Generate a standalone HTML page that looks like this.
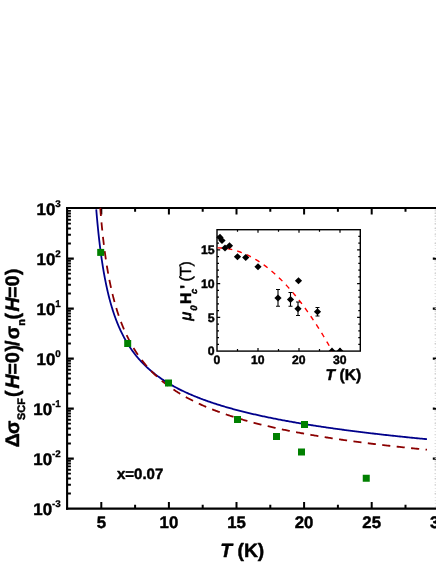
<!DOCTYPE html>
<html><head><meta charset="utf-8"><title>chart</title>
<style>
html,body{margin:0;padding:0;background:#fff;}
body{width:436px;height:564px;overflow:hidden;font-family:"Liberation Sans",sans-serif;}
svg{display:block;will-change:transform}
text{font-family:"Liberation Sans",sans-serif;font-weight:bold;fill:#000;text-rendering:geometricPrecision;stroke:#000;stroke-width:0.45px;stroke-linejoin:round}
</style></head><body>
<svg width="436" height="564" viewBox="0 0 436 564">
<rect x="0" y="0" width="436" height="564" fill="#fff"/>

<g stroke="#000" stroke-width="2.1" fill="none" stroke-linecap="butt">
<path d="M67.1 206.95V509.65"/>
<path d="M66.05 208H436"/>
<path d="M66.05 508.6H436"/>
</g>
<g stroke="#000" stroke-width="2" fill="none">
<path d="M101.30 508.6v-6.60M101.30 208v6.40M135.10 508.6v-3.80M135.10 208v3.80M168.90 508.6v-6.60M168.90 208v6.40M202.70 508.6v-3.80M202.70 208v3.80M236.50 508.6v-6.60M236.50 208v6.40M270.30 508.6v-3.80M270.30 208v3.80M304.10 508.6v-6.60M304.10 208v6.40M337.90 508.6v-3.80M337.90 208v3.80M371.70 508.6v-6.60M371.70 208v6.40M405.50 508.6v-3.80M405.50 208v3.80M439.30 508.6v-6.60M439.30 208v6.40"/>
</g>
<g stroke="#000" fill="none">
<path stroke-width="2.2" d="M67 458.60H73.8M67 408.60H73.8M67 358.60H73.8M67 308.60H73.8M67 258.60H73.8"/>
<path stroke-width="1.9" d="M67 493.55H70.9M67 484.74H70.9M67 478.50H70.9M67 473.65H70.9M67 469.69H70.9M67 466.35H70.9M67 463.45H70.9M67 460.89H70.9M67 443.55H70.9M67 434.74H70.9M67 428.50H70.9M67 423.65H70.9M67 419.69H70.9M67 416.35H70.9M67 413.45H70.9M67 410.89H70.9M67 393.55H70.9M67 384.74H70.9M67 378.50H70.9M67 373.65H70.9M67 369.69H70.9M67 366.35H70.9M67 363.45H70.9M67 360.89H70.9M67 343.55H70.9M67 334.74H70.9M67 328.50H70.9M67 323.65H70.9M67 319.69H70.9M67 316.35H70.9M67 313.45H70.9M67 310.89H70.9M67 293.55H70.9M67 284.74H70.9M67 278.50H70.9M67 273.65H70.9M67 269.69H70.9M67 266.35H70.9M67 263.45H70.9M67 260.89H70.9M67 243.55H70.9M67 234.74H70.9M67 228.50H70.9M67 223.65H70.9M67 219.69H70.9M67 216.35H70.9M67 213.45H70.9M67 210.89H70.9"/>
<path stroke-width="2.2" d="M432.8 458.60H436M432.8 408.60H436M432.8 358.60H436M432.8 308.60H436M432.8 258.60H436"/>
<path stroke-width="1" stroke="#ccc" d="M434.6 493.55H436M434.6 484.74H436M434.6 478.50H436M434.6 473.65H436M434.6 469.69H436M434.6 466.35H436M434.6 463.45H436M434.6 460.89H436M434.6 443.55H436M434.6 434.74H436M434.6 428.50H436M434.6 423.65H436M434.6 419.69H436M434.6 416.35H436M434.6 413.45H436M434.6 410.89H436M434.6 393.55H436M434.6 384.74H436M434.6 378.50H436M434.6 373.65H436M434.6 369.69H436M434.6 366.35H436M434.6 363.45H436M434.6 360.89H436M434.6 343.55H436M434.6 334.74H436M434.6 328.50H436M434.6 323.65H436M434.6 319.69H436M434.6 316.35H436M434.6 313.45H436M434.6 310.89H436M434.6 293.55H436M434.6 284.74H436M434.6 278.50H436M434.6 273.65H436M434.6 269.69H436M434.6 266.35H436M434.6 263.45H436M434.6 260.89H436M434.6 243.55H436M434.6 234.74H436M434.6 228.50H436M434.6 223.65H436M434.6 219.69H436M434.6 216.35H436M434.6 213.45H436M434.6 210.89H436"/>
<path stroke-width="1" stroke="#ddd" stroke-dasharray="1 2" d="M435.3 209V508"/>
</g>
<path d="M96.25 209.44L96.50 212.45L96.75 215.37L97.00 218.21L97.25 220.95L97.50 223.62L97.75 226.21L98.00 228.73L98.25 231.18L98.50 233.56L98.75 235.88L99.00 238.13L99.25 240.33L99.50 242.47L99.75 244.55L100.00 246.59L100.25 248.57L100.50 250.51L100.75 252.40L101.00 254.25L101.25 256.05L101.50 257.81L101.75 259.54L102.00 261.22L102.25 262.87L102.50 264.48L102.75 266.06L103.00 267.60L103.25 269.11L103.50 270.59L103.75 272.05L104.00 273.47L104.25 274.86L104.50 276.23L104.75 277.57L105.00 278.88L105.25 280.17L105.50 281.44L105.75 282.68L106.00 283.90L106.25 285.10L106.50 286.27L106.75 287.43L107.00 288.56L107.25 289.68L107.50 290.78L107.75 291.85L108.00 292.91L108.25 293.96L108.50 294.98L108.75 295.99L109.00 296.98L109.25 297.96L109.50 298.92L109.75 299.87L110.00 300.80L110.25 301.72L110.50 302.62L110.75 303.51L111.00 304.39L111.25 305.25L111.50 306.10L111.75 306.94L112.00 307.77L112.25 308.59L112.50 309.39L112.75 310.18L113.00 310.96L113.25 311.74L113.50 312.50L113.75 313.25L114.00 313.99L114.25 314.72L114.50 315.44L114.75 316.15L115.00 316.85L115.25 317.55L115.50 318.23L115.75 318.91L116.00 319.58L116.25 320.24L116.50 320.89L116.75 321.53L117.00 322.17L117.25 322.80L117.50 323.42L117.75 324.03L118.00 324.64L118.25 325.23L118.50 325.83L118.75 326.41L119.00 326.99L119.25 327.56L119.50 328.13L119.75 328.69L120.00 329.24L120.25 329.79L120.50 330.33L120.75 330.87L121.00 331.40L121.25 331.92L121.50 332.44L121.75 332.95L122.00 333.46L122.25 333.97L122.50 334.46L122.75 334.96L123.00 335.44L123.25 335.93L123.50 336.40L123.75 336.88L124.00 337.35L124.25 337.81L124.50 338.27L124.75 338.72L125.00 339.18L125.25 339.62L125.50 340.06L125.75 340.50L126.00 340.94L126.25 341.37L126.50 341.79L126.75 342.21L127.00 342.63L127.25 343.05L127.50 343.46L127.75 343.86L128.00 344.27L128.25 344.67L128.50 345.06L128.75 345.46L129.00 345.85L129.25 346.23L129.50 346.61L129.75 346.99L130.00 347.37L130.25 347.74L130.50 348.11L130.75 348.48L131.00 348.84L131.25 349.20L131.50 349.56L131.75 349.92L132.00 350.27L132.25 350.62L132.50 350.97L132.75 351.31L133.00 351.65L133.25 351.99L133.50 352.33L133.75 352.66L134.00 352.99L134.25 353.32L134.50 353.64L134.75 353.97L135.00 354.29L135.25 354.60L135.50 354.92L135.75 355.23L136.00 355.55L136.25 355.85L136.50 356.16L136.75 356.47L137.00 356.77L137.25 357.07L137.50 357.37L137.75 357.66L138.00 357.96L138.25 358.25L138.50 358.54L138.75 358.82L139.00 359.11L139.25 359.39L139.50 359.67L139.75 359.95L140.00 360.23L141.00 361.32L142.00 362.39L143.00 363.42L144.00 364.43L145.00 365.42L146.00 366.38L147.00 367.32L148.00 368.23L149.00 369.13L150.00 370.00L151.00 370.86L152.00 371.69L153.00 372.51L154.00 373.31L155.00 374.09L156.00 374.86L157.00 375.61L158.00 376.35L159.00 377.07L160.00 377.78L161.00 378.47L162.00 379.15L163.00 379.82L164.00 380.48L165.00 381.12L166.00 381.76L167.00 382.38L168.00 382.99L169.00 383.59L170.00 384.18L171.00 384.76L172.00 385.34L173.00 385.90L174.00 386.45L175.00 387.00L176.00 387.53L177.00 388.06L178.00 388.58L179.00 389.09L180.00 389.60L181.00 390.09L182.00 390.58L183.00 391.06L184.00 391.54L185.00 392.01L186.00 392.47L187.00 392.93L188.00 393.38L189.00 393.82L190.00 394.26L191.00 394.69L192.00 395.12L193.00 395.54L194.00 395.96L195.00 396.37L196.00 396.77L197.00 397.17L198.00 397.57L199.00 397.96L200.00 398.35L201.00 398.73L202.00 399.11L203.00 399.48L204.00 399.85L205.00 400.21L206.00 400.57L207.00 400.93L208.00 401.28L209.00 401.63L210.00 401.97L211.00 402.32L212.00 402.65L213.00 402.99L214.00 403.32L215.00 403.64L216.00 403.97L217.00 404.29L218.00 404.60L219.00 404.92L220.00 405.23L221.00 405.54L222.00 405.84L223.00 406.14L224.00 406.44L225.00 406.74L226.00 407.03L227.00 407.32L228.00 407.61L229.00 407.89L230.00 408.17L231.00 408.45L232.00 408.73L233.00 409.01L234.00 409.28L235.00 409.55L236.00 409.82L237.00 410.08L238.00 410.34L239.00 410.60L240.00 410.86L241.00 411.12L242.00 411.37L243.00 411.62L244.00 411.87L245.00 412.12L246.00 412.37L247.00 412.61L248.00 412.85L249.00 413.09L250.00 413.33L251.00 413.57L252.00 413.80L253.00 414.03L254.00 414.26L255.00 414.49L256.00 414.72L257.00 414.95L258.00 415.17L259.00 415.39L260.00 415.61L261.00 415.83L262.00 416.05L263.00 416.26L264.00 416.48L265.00 416.69L266.00 416.90L267.00 417.11L268.00 417.32L269.00 417.52L270.00 417.73L271.00 417.93L272.00 418.14L273.00 418.34L274.00 418.54L275.00 418.73L276.00 418.93L277.00 419.13L278.00 419.32L279.00 419.51L280.00 419.70L281.00 419.90L282.00 420.08L283.00 420.27L284.00 420.46L285.00 420.64L286.00 420.83L287.00 421.01L288.00 421.19L289.00 421.37L290.00 421.55L291.00 421.73L292.00 421.91L293.00 422.09L294.00 422.26L295.00 422.44L296.00 422.61L297.00 422.78L298.00 422.95L299.00 423.12L300.00 423.29L301.00 423.46L302.00 423.63L303.00 423.79L304.00 423.96L305.00 424.12L306.00 424.29L307.00 424.45L308.00 424.61L309.00 424.77L310.00 424.93L311.00 425.09L312.00 425.25L313.00 425.40L314.00 425.56L315.00 425.72L316.00 425.87L317.00 426.02L318.00 426.18L319.00 426.33L320.00 426.48L321.00 426.63L322.00 426.78L323.00 426.93L324.00 427.08L325.00 427.22L326.00 427.37L327.00 427.52L328.00 427.66L329.00 427.81L330.00 427.95L331.00 428.09L332.00 428.23L333.00 428.38L334.00 428.52L335.00 428.66L336.00 428.80L337.00 428.93L338.00 429.07L339.00 429.21L340.00 429.35L341.00 429.48L342.00 429.62L343.00 429.75L344.00 429.88L345.00 430.02L346.00 430.15L347.00 430.28L348.00 430.41L349.00 430.54L350.00 430.67L351.00 430.80L352.00 430.93L353.00 431.06L354.00 431.19L355.00 431.32L356.00 431.44L357.00 431.57L358.00 431.69L359.00 431.82L360.00 431.94L361.00 432.07L362.00 432.19L363.00 432.31L364.00 432.44L365.00 432.56L366.00 432.68L367.00 432.80L368.00 432.92L369.00 433.04L370.00 433.16L371.00 433.28L372.00 433.39L373.00 433.51L374.00 433.63L375.00 433.74L376.00 433.86L377.00 433.98L378.00 434.09L379.00 434.20L380.00 434.32L381.00 434.43L382.00 434.55L383.00 434.66L384.00 434.77L385.00 434.88L386.00 434.99L387.00 435.10L388.00 435.21L389.00 435.32L390.00 435.43L391.00 435.54L392.00 435.65L393.00 435.76L394.00 435.87L395.00 435.97L396.00 436.08L397.00 436.19L398.00 436.29L399.00 436.40L400.00 436.50L401.00 436.61L402.00 436.71L403.00 436.82L404.00 436.92L405.00 437.02L406.00 437.13L407.00 437.23L408.00 437.33L409.00 437.43L410.00 437.53L411.00 437.63L412.00 437.74L413.00 437.84L414.00 437.94L415.00 438.03L416.00 438.13L417.00 438.23L418.00 438.33L419.00 438.43L420.00 438.53L421.00 438.62L422.00 438.72L423.00 438.82L424.00 438.91L425.00 439.01L426.00 439.10L427.00 439.20" fill="none" stroke="#00008b" stroke-width="1.8" stroke-linejoin="round"/>
<path d="M100.25 207.90L100.50 211.05L100.75 214.09L101.00 217.02L101.25 219.85L101.50 222.58L101.75 225.23L102.00 227.80L102.25 230.28L102.50 232.69L102.75 235.04L103.00 237.31L103.25 239.52L103.50 241.67L103.75 243.76L104.00 245.80L104.25 247.78L104.50 249.71L104.75 251.60L105.00 253.44L105.25 255.24L105.50 256.99L105.75 258.71L106.00 260.39L106.25 262.02L106.50 263.63L106.75 265.20L107.00 266.73L107.25 268.24L107.50 269.71L107.75 271.16L108.00 272.57L108.25 273.96L108.50 275.32L108.75 276.66L109.00 277.97L109.25 279.26L109.50 280.52L109.75 281.76L110.00 282.98L110.25 284.18L110.50 285.36L110.75 286.52L111.00 287.66L111.25 288.78L111.50 289.88L111.75 290.96L112.00 292.03L112.25 293.08L112.50 294.11L112.75 295.13L113.00 296.13L113.25 297.12L113.50 298.09L113.75 299.05L114.00 300.00L114.25 300.93L114.50 301.84L114.75 302.75L115.00 303.64L115.25 304.52L115.50 305.39L115.75 306.25L116.00 307.09L116.25 307.93L116.50 308.75L116.75 309.56L117.00 310.36L117.25 311.16L117.50 311.94L117.75 312.71L118.00 313.47L118.25 314.23L118.50 314.97L118.75 315.70L119.00 316.43L119.25 317.15L119.50 317.86L119.75 318.56L120.00 319.25L120.25 319.94L120.50 320.62L120.75 321.29L121.00 321.95L121.25 322.60L121.50 323.25L121.75 323.89L122.00 324.53L122.25 325.15L122.50 325.77L122.75 326.39L123.00 327.00L123.25 327.60L123.50 328.19L123.75 328.78L124.00 329.37L124.25 329.94L124.50 330.51L124.75 331.08L125.00 331.64L125.25 332.20L125.50 332.74L125.75 333.29L126.00 333.83L126.25 334.36L126.50 334.89L126.75 335.41L127.00 335.93L127.25 336.45L127.50 336.96L127.75 337.46L128.00 337.96L128.25 338.46L128.50 338.95L128.75 339.44L129.00 339.92L129.25 340.40L129.50 340.87L129.75 341.34L130.00 341.81L130.25 342.27L130.50 342.73L130.75 343.18L131.00 343.63L131.25 344.08L131.50 344.52L131.75 344.96L132.00 345.40L132.25 345.83L132.50 346.26L132.75 346.68L133.00 347.11L133.25 347.52L133.50 347.94L133.75 348.35L134.00 348.76L134.25 349.17L134.50 349.57L134.75 349.97L135.00 350.36L135.25 350.76L135.50 351.15L135.75 351.53L136.00 351.92L136.25 352.30L136.50 352.68L136.75 353.06L137.00 353.43L137.25 353.80L137.50 354.17L137.75 354.53L138.00 354.89L138.25 355.25L138.50 355.61L138.75 355.97L139.00 356.32L139.25 356.67L139.50 357.02L139.75 357.36L140.00 357.70L141.00 359.05L142.00 360.36L143.00 361.64L144.00 362.88L145.00 364.10L146.00 365.28L147.00 366.43L148.00 367.56L149.00 368.66L150.00 369.73L151.00 370.78L152.00 371.81L153.00 372.81L154.00 373.80L155.00 374.76L156.00 375.70L157.00 376.62L158.00 377.52L159.00 378.41L160.00 379.27L161.00 380.12L162.00 380.96L163.00 381.77L164.00 382.58L165.00 383.36L166.00 384.14L167.00 384.89L168.00 385.64L169.00 386.37L170.00 387.09L171.00 387.80L172.00 388.49L173.00 389.18L174.00 389.85L175.00 390.51L176.00 391.16L177.00 391.80L178.00 392.43L179.00 393.05L180.00 393.66L181.00 394.26L182.00 394.85L183.00 395.43L184.00 396.01L185.00 396.57L186.00 397.13L187.00 397.68L188.00 398.22L189.00 398.76L190.00 399.28L191.00 399.80L192.00 400.31L193.00 400.82L194.00 401.32L195.00 401.81L196.00 402.29L197.00 402.77L198.00 403.24L199.00 403.71L200.00 404.17L201.00 404.63L202.00 405.08L203.00 405.52L204.00 405.96L205.00 406.39L206.00 406.82L207.00 407.24L208.00 407.66L209.00 408.07L210.00 408.48L211.00 408.88L212.00 409.28L213.00 409.67L214.00 410.06L215.00 410.45L216.00 410.83L217.00 411.21L218.00 411.58L219.00 411.95L220.00 412.31L221.00 412.67L222.00 413.03L223.00 413.38L224.00 413.73L225.00 414.08L226.00 414.42L227.00 414.76L228.00 415.09L229.00 415.43L230.00 415.75L231.00 416.08L232.00 416.40L233.00 416.72L234.00 417.04L235.00 417.35L236.00 417.66L237.00 417.97L238.00 418.27L239.00 418.57L240.00 418.87L241.00 419.16L242.00 419.46L243.00 419.75L244.00 420.03L245.00 420.32L246.00 420.60L247.00 420.88L248.00 421.16L249.00 421.43L250.00 421.71L251.00 421.98L252.00 422.24L253.00 422.51L254.00 422.77L255.00 423.03L256.00 423.29L257.00 423.55L258.00 423.80L259.00 424.06L260.00 424.31L261.00 424.55L262.00 424.80L263.00 425.04L264.00 425.29L265.00 425.53L266.00 425.77L267.00 426.00L268.00 426.24L269.00 426.47L270.00 426.70L271.00 426.93L272.00 427.16L273.00 427.38L274.00 427.61L275.00 427.83L276.00 428.05L277.00 428.27L278.00 428.49L279.00 428.70L280.00 428.92L281.00 429.13L282.00 429.34L283.00 429.55L284.00 429.76L285.00 429.96L286.00 430.17L287.00 430.37L288.00 430.57L289.00 430.78L290.00 430.98L291.00 431.17L292.00 431.37L293.00 431.56L294.00 431.76L295.00 431.95L296.00 432.14L297.00 432.33L298.00 432.52L299.00 432.71L300.00 432.89L301.00 433.08L302.00 433.26L303.00 433.45L304.00 433.63L305.00 433.81L306.00 433.99L307.00 434.16L308.00 434.34L309.00 434.52L310.00 434.69L311.00 434.86L312.00 435.04L313.00 435.21L314.00 435.38L315.00 435.55L316.00 435.71L317.00 435.88L318.00 436.05L319.00 436.21L320.00 436.38L321.00 436.54L322.00 436.70L323.00 436.86L324.00 437.02L325.00 437.18L326.00 437.34L327.00 437.50L328.00 437.65L329.00 437.81L330.00 437.96L331.00 438.12L332.00 438.27L333.00 438.42L334.00 438.57L335.00 438.72L336.00 438.87L337.00 439.02L338.00 439.17L339.00 439.31L340.00 439.46L341.00 439.61L342.00 439.75L343.00 439.89L344.00 440.04L345.00 440.18L346.00 440.32L347.00 440.46L348.00 440.60L349.00 440.74L350.00 440.88L351.00 441.01L352.00 441.15L353.00 441.29L354.00 441.42L355.00 441.56L356.00 441.69L357.00 441.82L358.00 441.96L359.00 442.09L360.00 442.22L361.00 442.35L362.00 442.48L363.00 442.61L364.00 442.74L365.00 442.86L366.00 442.99L367.00 443.12L368.00 443.24L369.00 443.37L370.00 443.49L371.00 443.62L372.00 443.74L373.00 443.86L374.00 443.99L375.00 444.11L376.00 444.23L377.00 444.35L378.00 444.47L379.00 444.59L380.00 444.71L381.00 444.83L382.00 444.94L383.00 445.06L384.00 445.18L385.00 445.29L386.00 445.41L387.00 445.52L388.00 445.64L389.00 445.75L390.00 445.86L391.00 445.98L392.00 446.09L393.00 446.20L394.00 446.31L395.00 446.42L396.00 446.53L397.00 446.64L398.00 446.75L399.00 446.86L400.00 446.97L401.00 447.08L402.00 447.18L403.00 447.29L404.00 447.40L405.00 447.50L406.00 447.61L407.00 447.71L408.00 447.82L409.00 447.92L410.00 448.02L411.00 448.13L412.00 448.23L413.00 448.33L414.00 448.43L415.00 448.53L416.00 448.64L417.00 448.74L418.00 448.84L419.00 448.94L420.00 449.04L421.00 449.13L422.00 449.23L423.00 449.33L424.00 449.43L425.00 449.52L426.00 449.62L427.00 449.72" fill="none" stroke="#8b0000" stroke-width="1.8" stroke-dasharray="8.14 6.38" stroke-linejoin="round"/>
<g fill="#008000">
<rect x="97.20" y="248.90" width="7" height="7"/>
<rect x="124.20" y="340.00" width="7" height="7"/>
<rect x="165.00" y="379.50" width="7" height="7"/>
<rect x="234.00" y="416.00" width="7" height="7"/>
<rect x="273.00" y="433.00" width="7" height="7"/>
<rect x="298.00" y="448.50" width="7" height="7"/>
<rect x="301.00" y="421.00" width="7" height="7"/>
<rect x="362.75" y="474.75" width="7" height="7"/>
</g>
<text x="60.8" y="514.85" text-anchor="end" font-size="16.9">10<tspan font-size="9.8" dy="-8.3" stroke-width="0.3">-3</tspan></text>
<text x="60.8" y="464.85" text-anchor="end" font-size="16.9">10<tspan font-size="9.8" dy="-8.3" stroke-width="0.3">-2</tspan></text>
<text x="60.8" y="414.85" text-anchor="end" font-size="16.9">10<tspan font-size="9.8" dy="-8.3" stroke-width="0.3">-1</tspan></text>
<text x="60.8" y="364.85" text-anchor="end" font-size="16.9">10<tspan font-size="9.8" dy="-8.3" stroke-width="0.3">0</tspan></text>
<text x="60.8" y="314.85" text-anchor="end" font-size="16.9">10<tspan font-size="9.8" dy="-8.3" stroke-width="0.3">1</tspan></text>
<text x="60.8" y="264.85" text-anchor="end" font-size="16.9">10<tspan font-size="9.8" dy="-8.3" stroke-width="0.3">2</tspan></text>
<text x="60.8" y="214.85" text-anchor="end" font-size="16.9">10<tspan font-size="9.8" dy="-8.3" stroke-width="0.3">3</tspan></text>
<text x="101.30" y="528" text-anchor="middle" font-size="16.8">5</text>
<text x="168.90" y="528" text-anchor="middle" font-size="16.8">10</text>
<text x="236.50" y="528" text-anchor="middle" font-size="16.8">15</text>
<text x="304.10" y="528" text-anchor="middle" font-size="16.8">20</text>
<text x="371.70" y="528" text-anchor="middle" font-size="16.8">25</text>
<text x="439.30" y="528" text-anchor="middle" font-size="16.8">30</text>
<text x="242.3" y="556.6" text-anchor="middle" font-size="19.3"><tspan font-style="italic">T</tspan> (K)</text>
<text x="117" y="479" font-size="15">x=0.07</text>
<text transform="translate(19.2 448.3) rotate(-90)" font-size="19.5" x="1.05 14.3 28.3 35.55 43.45 51.3 59.8 73.7 85.35 96.7 102.4 109.0 122.5 128.9 136.8 150.6 162.05 173.35">Δσ<tspan font-size="10.9" dy="6.1">SCF</tspan><tspan dy="-6.1">(</tspan><tspan font-style="italic">H</tspan>=0)/σ<tspan font-size="10.9" dy="6.1">n</tspan><tspan dy="-6.1">(</tspan><tspan font-style="italic">H</tspan>=0)</text>
<rect x="217.0" y="229.7" width="143.3" height="121.40000000000003" fill="#fff" stroke="#000" stroke-width="1.4"/>
<path stroke="#000" stroke-width="1.2" fill="none" d="M237.50 351.1v-2M237.50 229.7v2M258.00 351.1v-3M258.00 229.7v3M278.50 351.1v-2M278.50 229.7v2M299.00 351.1v-3M299.00 229.7v3M319.50 351.1v-2M319.50 229.7v2M340.00 351.1v-3M340.00 229.7v3M217.0 344.35h2M360.3 344.35h-2M217.0 337.60h2M360.3 337.60h-2M217.0 330.85h2M360.3 330.85h-2M217.0 324.10h2M360.3 324.10h-2M217.0 317.35h3.2M360.3 317.35h-3.2M217.0 310.60h2M360.3 310.60h-2M217.0 303.85h2M360.3 303.85h-2M217.0 297.10h2M360.3 297.10h-2M217.0 290.35h2M360.3 290.35h-2M217.0 283.60h3.2M360.3 283.60h-3.2M217.0 276.85h2M360.3 276.85h-2M217.0 270.10h2M360.3 270.10h-2M217.0 263.35h2M360.3 263.35h-2M217.0 256.60h2M360.3 256.60h-2M217.0 249.85h3.2M360.3 249.85h-3.2M217.0 243.10h2M360.3 243.10h-2M217.0 236.35h2M360.3 236.35h-2"/>
<text x="216.80" y="364" text-anchor="middle" font-size="12.2">0</text>
<text x="257.80" y="364" text-anchor="middle" font-size="12.2">10</text>
<text x="298.80" y="364" text-anchor="middle" font-size="12.2">20</text>
<text x="339.80" y="364" text-anchor="middle" font-size="12.2">30</text>
<text x="214.6" y="355.40" text-anchor="end" font-size="12.3">0</text>
<text x="214.6" y="321.65" text-anchor="end" font-size="12.3">5</text>
<text x="214.6" y="287.90" text-anchor="end" font-size="12.3">10</text>
<text x="214.6" y="254.15" text-anchor="end" font-size="12.3">15</text>
<text x="325.6" y="380.2" font-size="15.6"><tspan font-style="italic">T</tspan> (K)</text>
<text transform="translate(190.8 320.3) rotate(-90)" font-size="15.5"><tspan x="-0.3" font-style="italic" font-weight="normal" stroke-width="0.8">μ</tspan><tspan x="9.6" dy="5.8" font-size="9.5" font-style="italic">0</tspan><tspan x="16.3" dy="-5.8">H</tspan><tspan x="26.3" dy="5.8" font-size="9.5" font-style="italic">c</tspan><tspan x="31.6" dy="-5.8">'</tspan><tspan x="38.8" font-size="16" font-weight="normal" stroke-width="0.5">(T)</tspan></text>
<path d="M217.00 247.83L219.05 247.86L221.10 247.96L223.15 248.12L225.20 248.35L227.25 248.64L229.30 249.00L231.35 249.43L233.40 249.92L235.45 250.47L237.50 251.09L239.55 251.78L241.60 252.53L243.65 253.35L245.70 254.23L247.75 255.18L249.80 256.20L251.85 257.27L253.90 258.42L255.95 259.63L258.00 260.90L260.05 262.24L262.10 263.65L264.15 265.12L266.20 266.66L268.25 268.26L270.30 269.93L272.35 271.66L274.40 273.46L276.45 275.32L278.50 277.25L280.55 279.25L282.60 281.31L284.65 283.43L286.70 285.62L288.75 287.88L290.80 290.20L292.85 292.59L294.90 295.04L296.95 297.56L299.00 300.14L301.05 302.79L303.10 305.50L305.15 308.28L307.20 311.13L309.25 314.04L311.30 317.01L313.35 320.06L315.40 323.16L317.45 326.33L319.50 329.57L321.55 332.87L323.60 336.24L325.65 339.67L327.70 343.17L329.75 346.74L331.80 350.37L332.21 351.10" fill="none" stroke="#ff0000" stroke-width="1.4" stroke-dasharray="4.9 5.1" stroke-dashoffset="-0.5"/>
<path stroke="#000" stroke-width="1.1" fill="none" d="M278 289.5V306.25M276 289.5h4M276 306.25h4M290.5 292.5V306.25M288.5 292.5h4M288.5 306.25h4M298 302V315.5M296 302h4M296 315.5h4M317.5 307.5V316M315.5 307.5h4M315.5 316h4"/>
<g fill="#000">
<path d="M216.40 237.4L220 233.80L223.60 237.4L220 241.00Z"/>
<path d="M218.40 240.5L222 236.90L225.60 240.5L222 244.10Z"/>
<path d="M221.40 248L225 244.40L228.60 248L225 251.60Z"/>
<path d="M225.90 245.75L229.5 242.15L233.10 245.75L229.5 249.35Z"/>
<path d="M233.90 256.75L237.5 253.15L241.10 256.75L237.5 260.35Z"/>
<path d="M242.15 257.5L245.75 253.90L249.35 257.5L245.75 261.10Z"/>
<path d="M254.40 266.75L258 263.15L261.60 266.75L258 270.35Z"/>
<path d="M274.40 298L278 294.40L281.60 298L278 301.60Z"/>
<path d="M286.90 299.5L290.5 295.90L294.10 299.5L290.5 303.10Z"/>
<path d="M294.40 308.75L298 305.15L301.60 308.75L298 312.35Z"/>
<path d="M294.90 280.75L298.5 277.15L302.10 280.75L298.5 284.35Z"/>
<path d="M313.90 311.75L317.5 308.15L321.10 311.75L317.5 315.35Z"/>
<path d="M328.6 351L332 347.6L335.4 351Z"/>
<path d="M336.6 351L340 347.6L343.4 351Z"/>
</g>
</svg></body></html>
